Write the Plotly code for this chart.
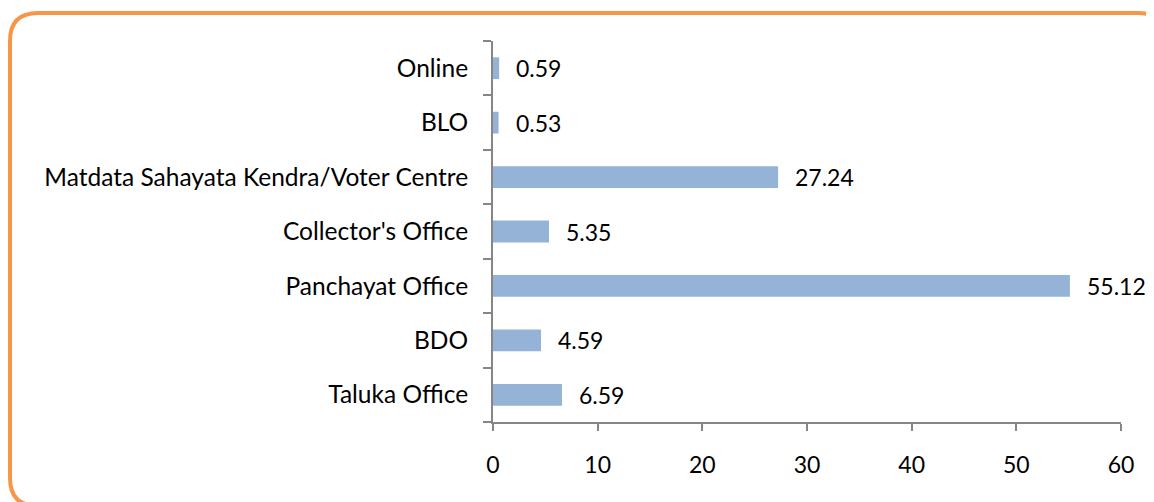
import plotly.graph_objects as go

categories = ["Taluka Office", "BDO", "Panchayat Office", "Collector's Office",
              "Matdata Sahayata Kendra/Voter Centre", "BLO", "Online"]
values = [6.59, 4.59, 55.12, 5.35, 27.24, 0.53, 0.59]
labels = ["6.59", "4.59", "55.12", "5.35", "27.24", "0.53", "0.59"]

W, H = 1154, 502
L, R, T, B = 485, 41, 33, 88
pw, ph = W - L - R, H - T - B

FONT = "Lato"
FS_CAT = 24.5
FS_NUM = 23

fig = go.Figure(go.Bar(
    y=categories, x=values, orientation="h",
    marker=dict(color="#95B3D7", line=dict(width=0)),
    width=0.4, hoverinfo="skip",
))

for c, v, t in zip(categories, values, labels):
    fig.add_annotation(x=v, y=c, text=t, showarrow=False, xanchor="left",
                       xshift=15, font=dict(family=FONT, size=FS_NUM, color="black"))

# rounded orange frame in paper coords
def px(x):
    return (x - L) / pw

def py(y):
    return (H - B - y) / ph

x0, x1, y0, y1, r = 2, 1158, 5, 498, 28
path = (f"M {px(x0)},{py(y0 + r)} "
        f"Q {px(x0)},{py(y0)} {px(x0 + r)},{py(y0)} "
        f"L {px(x1 - r)},{py(y0)} "
        f"Q {px(x1)},{py(y0)} {px(x1)},{py(y0 + r)} "
        f"L {px(x1)},{py(y1 - r)} "
        f"Q {px(x1)},{py(y1)} {px(x1 - r)},{py(y1)} "
        f"L {px(x0 + r)},{py(y1)} "
        f"Q {px(x0)},{py(y1)} {px(x0)},{py(y1 - r)} Z")
fig.add_shape(type="path", path=path, xref="paper", yref="paper",
              line=dict(color="#F79646", width=4), layer="above")

fig.update_layout(
    width=W, height=H,
    margin=dict(l=L, r=R, t=T, b=B, autoexpand=False),
    paper_bgcolor="white", plot_bgcolor="white",
    showlegend=False,
    font=dict(family=FONT, size=FS_CAT, color="black"),
    xaxis=dict(range=[0, 60], dtick=10, tick0=0, showgrid=False, zeroline=False,
               showline=True, linecolor="#868686", linewidth=2,
               ticks="outside", ticklen=7, tickwidth=2, tickcolor="#868686",
               ticklabelstandoff=14,
               tickfont=dict(family=FONT, size=FS_NUM, color="black")),
    yaxis=dict(type="category", categoryorder="array", categoryarray=categories,
               showgrid=False, zeroline=False,
               showline=True, linecolor="#868686", linewidth=2,
               ticks="outside", ticklen=8, tickwidth=2, tickcolor="#868686",
               tickson="boundaries", ticklabelstandoff=18,
               tickfont=dict(family=FONT, size=FS_CAT, color="black")),
)

fig.write_html("out.html")
